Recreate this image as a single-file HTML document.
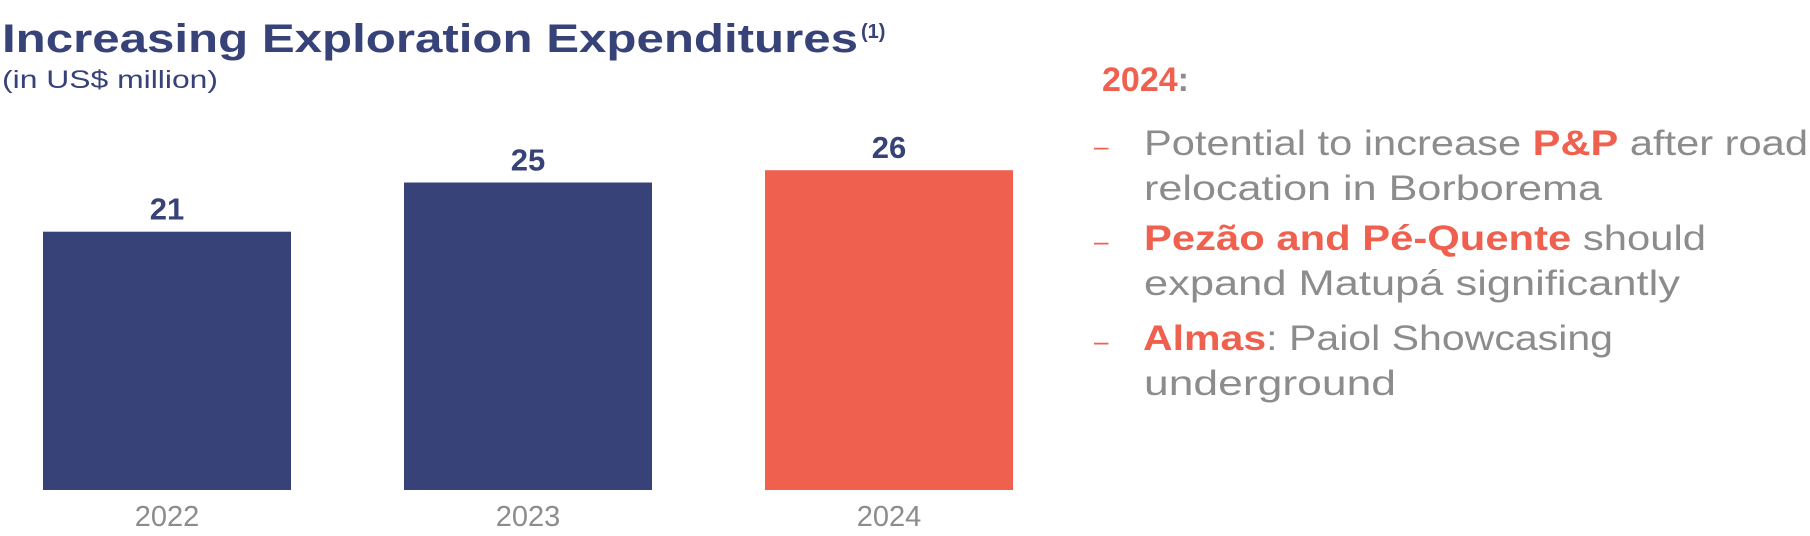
<!DOCTYPE html>
<html><head><meta charset="utf-8"><style>
html,body{margin:0;padding:0;background:#fff;}
svg{display:block;font-family:"Liberation Sans",sans-serif;}
</style></head><body>
<svg id="chart" width="1810" height="536" viewBox="0 0 1810 536">
<text x="2" y="52" font-size="40" font-weight="bold" fill="#374278" textLength="856" lengthAdjust="spacingAndGlyphs">Increasing Exploration Expenditures</text>
<text x="861" y="38" font-size="20" font-weight="bold" fill="#374278">(1)</text>
<text x="2" y="88" font-size="25" fill="#374278" textLength="216" lengthAdjust="spacingAndGlyphs">(in US$ million)</text>
<g id="bars"></g>
<text x="1102" y="91" font-size="34" font-weight="bold" fill="#EF604F">2024<tspan fill="#8c8c8c">:</tspan></text>
<g font-size="35" fill="#8c8c8c">
<text x="1094" y="155" fill="#EF604F" font-size="26">–</text>
<text x="1144" y="155" textLength="664" lengthAdjust="spacingAndGlyphs">Potential to increase <tspan fill="#EF604F" font-weight="bold">P&amp;P</tspan> after road</text>
<text x="1144" y="200" textLength="458" lengthAdjust="spacingAndGlyphs">relocation in Borborema</text>
<text x="1094" y="250" fill="#EF604F" font-size="26">–</text>
<text x="1144" y="250" textLength="562" lengthAdjust="spacingAndGlyphs"><tspan fill="#EF604F" font-weight="bold">Pezão and Pé-Quente</tspan> should</text>
<text x="1144" y="295" textLength="536" lengthAdjust="spacingAndGlyphs">expand Matupá significantly</text>
<text x="1094" y="350" fill="#EF604F" font-size="26">–</text>
<text x="1143" y="350" textLength="470" lengthAdjust="spacingAndGlyphs"><tspan fill="#EF604F" font-weight="bold">Almas</tspan>: Paiol Showcasing</text>
<text x="1144" y="395" textLength="252" lengthAdjust="spacingAndGlyphs">underground</text>
</g>
</svg>
<script>
const categories = ["2022", "2023", "2024"];
const values = [21, 25, 26];
const valueLabels = ["21", "25", "26"];
const barColors = ["#374278", "#374278", "#EF604F"];

const baseY = 490, pxPerUnit = 12.3, firstX = 43, step = 361, barW = 248;
const g = document.getElementById('bars');
const NS = 'http://www.w3.org/2000/svg';
function xPos(i){ return firstX + i * step; }
function yPos(v){ return baseY - v * pxPerUnit; }
categories.forEach((c, i) => {
  const r = document.createElementNS(NS, 'rect');
  
  
  r.setAttribute('x', xPos(i));
  r.setAttribute('y', yPos(values[i]));
  r.setAttribute('width', barW);
  r.setAttribute('height', baseY - yPos(values[i]));
  r.setAttribute('fill', barColors[i]);
  g.appendChild(r);
  const t = document.createElementNS(NS, 'text');
  
  
  t.setAttribute('x', xPos(i) + barW / 2);
  t.setAttribute('y', yPos(values[i]) - 12);
  t.setAttribute('text-anchor', 'middle');
  t.setAttribute('font-size', '31');
  t.setAttribute('font-weight', 'bold');
  t.setAttribute('fill', '#374278');
  t.textContent = valueLabels[i];
  g.appendChild(t);
  const y = document.createElementNS(NS, 'text');
  
  
  y.setAttribute('x', xPos(i) + barW / 2);
  y.setAttribute('y', 526);
  y.setAttribute('text-anchor', 'middle');
  y.setAttribute('font-size', '29');
  y.setAttribute('fill', '#8c8c8c');
  y.textContent = c;
  g.appendChild(y);
});
</script>
</body></html>
